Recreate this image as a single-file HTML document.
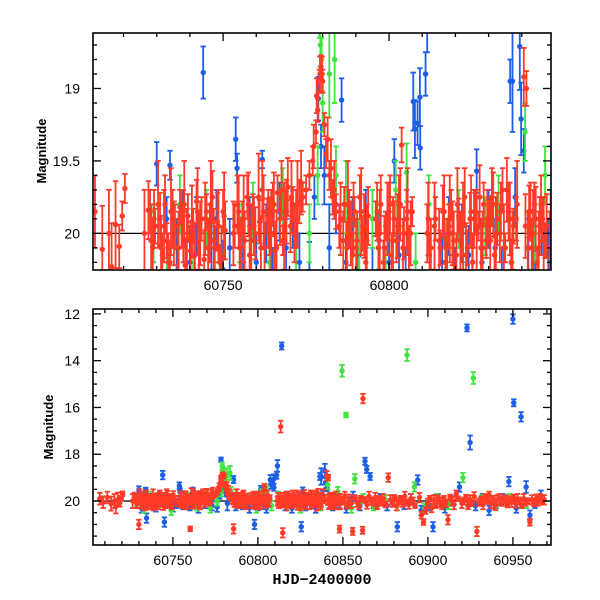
<!DOCTYPE html>
<html><head><meta charset="utf-8">
<style>
html,body{margin:0;padding:0;background:#fff;}
svg{display:block;}
text{font-family:"Liberation Sans",sans-serif;}
</style></head>
<body>
<svg id="chart" width="600" height="600" viewBox="0 0 600 600" xmlns="http://www.w3.org/2000/svg">
<defs>
<clipPath id="clipTop"><rect x="93" y="33" width="458" height="237"/></clipPath>
<clipPath id="clipBot"><rect x="93" y="309" width="458" height="236"/></clipPath>
</defs>
<rect x="0" y="0" width="600" height="600" fill="#fff"/>
<g id="top"></g>
<g id="bot"></g>
<text x="46" y="151" transform="rotate(-90 46 151)" text-anchor="middle" font-size="13" font-weight="bold">Magnitude</text>
<text x="53" y="427" transform="rotate(-90 53 427)" text-anchor="middle" font-size="13" font-weight="bold">Magnitude</text>
<text x="322" y="584" text-anchor="middle" font-size="15" font-weight="bold" style="font-family:'Liberation Mono',monospace">HJD−2400000</text>
</svg>
<script>
const redT=[60707,60709,60711.4,60713.6,60715.6,60716.4,60717.6,60718.7,60719.6,60720.4,60726.3,60727.5,
60728,60728.8,60729.5,60730,60731,60731.7,60732.5,60733,60734,60734.8,60735.5,60736.3,60737,60738,60738.6,60739.4,60740.2,60741,60742,60742.7,60743.5,60744.3,60745,60746,60746.8,60747.5,60748.3,60749,60750,60750.6,
60753.5,60754.3,60755,60755.8,60756.5,60757.3,60758,60759,60759.7,60760.2,60761,60761.8,60762.5,60763.3,60764,60765,60765.6,60766.4,60767.2,60768,60768.7,60769.5,60770.3,60771,60772,60773,
60774,60775,60776,60777,60778,60778.5,60779,60779.5,60780,60780.5,60781,60782,60783,60784,
60785,60785.7,60786.5,60787.3,60788,60789,60789.6,60790.4,60791.2,60792,60793,60793.7,60796,60796.8,60797.5,60798.3,60799,60800,60800.7,60801.5,60802.2,60803,60803.8,60804.5,60805.3,60806,60807,60811.5,60812.2,60813.4,60814,60814.6,60815.4,60816.2,60817,60818,60818.7,60819.5,60820.3,60821,60822,60822.8,60823.6,60824.4,60825.2,60826,60827,60827.7,60828.5,60829.3,60830,60831,60831.8,60832.6,60833.4,60834.2,60835,60836,60836.8,60837.5,60838.3,60840.6,60841.4,60842.2,60843,60843.8,60844.6,60845.4,60846.2,60847,60848,60848.7,
60850,60851.2,60852.4,60853.6,60854.8,60855.7,60857,60858.2,60859.4,60860.6,60861.6,60861.8,60863,60864.2,60865.4,60866.6,60867.8,60869,60870.2,60871.4,60872.6,60873.8,60875,60876.7,60878,60879.2,60880.4,60881.6,60882.8,60884,60885.2,60886.4,60887.6,60888.8,60890,60891.2,60892.4,60895,60896.2,60897.4,60898.6,60899.8,60901,60902.2,60903.4,60904.6,60905.8,60907,60908.2,60909.4,60910.6,60911.8,60913,60914.2,60915.4,60916.6,60917.8,60920,60921.2,60922.4,60923.6,60924.8,60926,60927.2,60928.8,60930,60931.2,60932.4,60933.6,60934.8,60936,60937.2,60938.4,60939.6,60940.8,60942,60943.2,60944.4,60945.6,60946.8,60948,60949.2,60950.4,60951.6,60952.8,60954,60955.2,60956.4,60957.6,60958.8,60960,60961.2,60962.4,60963.6,60964.8,60966,60967.2,60968.4];
const redMag=[19.9,20.05,19.85,20.11,20.0,20.23,19.94,20.09,19.88,19.69,20.0,19.84,
19.85,20.1,19.95,21.0,19.9,20.15,19.8,20.05,20.2,19.9,19.95,20.1,19.82,20.0,20.22,19.88,20.12,19.95,19.78,20.05,19.9,20.18,19.85,20.0,19.75,20.1,19.92,20.2,19.85,19.98,
19.95,19.8,20.1,19.9,20.05,19.75,20.15,19.85,20.0,21.19,19.92,19.7,20.1,19.88,19.95,19.8,20.12,19.72,19.9,20.05,19.85,19.68,19.95,19.8,19.9,19.78,
19.75,19.7,19.6,19.5,19.3,19.15,18.95,18.85,18.95,19.25,19.45,19.6,19.75,19.85,
19.95,21.19,19.8,20.1,19.9,20.15,19.85,20.05,19.75,20.0,20.2,19.88,19.9,20.1,19.8,20.2,19.95,19.85,20.15,19.9,20.05,19.8,19.39,20.0,19.9,20.1,19.85,20.0,20.15,16.82,19.9,21.36,20.1,19.85,20.2,19.95,19.8,20.05,20.15,19.88,20.0,19.75,20.1,19.9,20.2,19.85,19.95,20.1,19.8,20.05,19.92,19.75,20.15,19.9,20.0,19.7,20.1,19.85,20.2,19.95,19.9,18.92,19.0,19.85,20.1,19.8,20.2,19.95,19.9,20.05,21.2,19.9,
20.0,19.8,20.2,19.9,20.1,21.3,19.85,20.05,20.2,19.9,21.25,15.62,19.95,20.15,19.8,20.0,20.1,19.85,20.2,19.9,20.05,19.9,20.15,19.0,19.95,20.1,19.85,20.2,20.0,19.9,20.1,19.8,20.05,20.15,19.9,20.0,20.2,19.85,20.6,20.9,20.4,20.1,19.9,20.3,19.95,20.15,19.85,20.05,20.2,19.9,20.1,20.8,19.85,20.0,20.15,19.7,19.9,20.1,20.0,19.85,20.2,19.95,20.1,19.8,21.3,20.05,19.9,20.15,19.85,20.0,19.75,20.1,19.9,20.2,19.95,19.85,20.1,20.0,19.9,20.15,19.95,20.05,19.85,20.1,19.9,20.0,20.2,19.9,20.05,20.0,20.9,19.95,20.1,19.9,20.0,19.85,20.05,19.95];
const redErr=[0.25,0.25,0.25,0.3,0.3,0.3,0.3,0.15,0.1,0.1,0.3,0.2,
0.15,0.2,0.12,0.2,0.18,0.15,0.2,0.12,0.15,0.2,0.15,0.2,0.12,0.2,0.18,0.15,0.2,0.12,0.15,0.2,0.15,0.2,0.12,0.2,0.18,0.15,0.2,0.12,0.15,0.2,
0.15,0.2,0.18,0.12,0.2,0.15,0.2,0.12,0.18,0.1,0.15,0.2,0.18,0.12,0.2,0.15,0.2,0.12,0.18,0.1,0.15,0.2,0.18,0.12,0.2,0.15,
0.1,0.1,0.1,0.1,0.08,0.08,0.08,0.08,0.08,0.08,0.1,0.1,0.12,0.12,
0.15,0.2,0.12,0.18,0.2,0.15,0.1,0.2,0.15,0.12,0.15,0.2,0.12,0.18,0.2,0.15,0.1,0.2,0.15,0.12,0.15,0.2,0.12,0.18,0.2,0.15,0.1,0.2,0.15,0.25,0.15,0.2,0.12,0.18,0.2,0.15,0.1,0.2,0.15,0.12,0.15,0.2,0.12,0.18,0.2,0.15,0.1,0.2,0.15,0.12,0.15,0.2,0.12,0.18,0.2,0.15,0.1,0.2,0.15,0.12,0.15,0.2,0.12,0.18,0.2,0.15,0.1,0.2,0.15,0.12,0.15,0.2,
0.15,0.2,0.12,0.18,0.2,0.15,0.1,0.2,0.15,0.12,0.15,0.2,0.12,0.18,0.2,0.15,0.1,0.2,0.15,0.12,0.15,0.2,0.12,0.18,0.2,0.15,0.1,0.2,0.15,0.12,0.15,0.2,0.12,0.18,0.2,0.15,0.1,0.2,0.15,0.12,0.15,0.2,0.12,0.18,0.2,0.15,0.1,0.2,0.15,0.12,0.15,0.2,0.12,0.18,0.2,0.15,0.1,0.2,0.15,0.12,0.15,0.2,0.12,0.18,0.2,0.15,0.1,0.2,0.15,0.12,0.15,0.2,0.12,0.18,0.2,0.15,0.1,0.2,0.15,0.12,0.15,0.2,0.12,0.18,0.2,0.15,0.1,0.2,0.15,0.12,0.15,0.2,0.12,0.18,0.2,0.15,0.1,0.2];

const redT2=[60728.3,60729.2,60730.4,60731.3,60732.2,60733.5,60734.3,60735.2,60736.6,60737.5,60738.3,60739.1,60740.6,60741.5,60742.3,60743.1,60744.6,60745.5,60746.3,60747.2,60748.6,60749.5,60750.3,
60753.1,60754.7,60755.4,60756.2,60757.6,60758.5,60759.3,60760.7,60761.4,60762.2,60763.6,60764.5,60765.3,60766.1,60767.6,60768.4,60769.1,60770.6,60771.5,60772.4,60773.5,
60777.3,60778.2,60779.2,60779.8,60781.5,60782.5,60783.5,
60785.4,60786.2,60787.6,60788.5,60789.3,60790.1,60791.6,60792.5,60793.3,60796.4,60797.2,60798.6,60799.5,60800.3,60801.2,60802.6,60803.4,60804.2,60805.6,60806.5,60811.8,60812.6,60813.7,60815.1,60816.6,60817.5,60818.3,60819.1,60820.6,60821.5,60822.3,60823.2,60824.7,60825.6,60826.4,60827.3,60828.2,60829.6,60830.5,60831.4,60832.2,60833.7,60834.6,60835.5,60836.4,60837.2,60838.6,60841.1,60841.8,60842.6,60843.4,60844.2,60845.1,60845.8,60846.6,60847.5,60848.4];
const redMag2=[20.05,19.9,19.8,20.1,19.95,20.2,19.85,20.0,20.1,19.9,19.8,20.05,19.92,20.15,19.85,20.0,19.9,20.1,19.8,20.05,19.95,20.15,19.88,
20.0,19.85,20.1,19.9,19.8,20.05,19.95,19.75,20.1,19.85,19.9,20.0,19.8,20.1,19.7,19.95,19.85,19.75,20.0,19.8,19.65,
19.4,19.05,18.9,18.9,19.35,19.55,19.7,
19.9,20.05,19.8,20.0,19.9,20.1,19.85,19.95,20.05,19.85,20.0,20.1,19.9,19.8,20.05,19.95,19.8,20.1,19.85,20.0,19.9,20.1,19.95,20.05,19.85,20.1,19.9,20.0,19.8,20.05,19.95,20.15,19.85,19.9,20.0,19.75,20.1,19.9,20.05,19.8,20.0,19.85,20.1,19.7,19.9,20.05,19.8,19.95,20.1,19.85,20.0,19.9,20.1,19.8,20.05,19.95,20.1];
const redErr2=[0.25,0.2,0.3,0.22,0.25,0.2,0.3,0.22,0.25,0.2,0.3,0.22,0.25,0.2,0.3,0.22,0.25,0.2,0.3,0.22,0.25,0.2,0.3,
0.22,0.25,0.2,0.3,0.22,0.25,0.2,0.3,0.22,0.25,0.2,0.3,0.22,0.25,0.2,0.3,0.22,0.25,0.2,0.3,0.22,
0.15,0.12,0.12,0.12,0.15,0.2,0.2,
0.25,0.2,0.3,0.22,0.25,0.2,0.3,0.22,0.25,0.2,0.3,0.22,0.25,0.2,0.3,0.22,0.25,0.2,0.3,0.22,0.25,0.2,0.3,0.22,0.25,0.2,0.3,0.22,0.25,0.2,0.3,0.22,0.25,0.2,0.3,0.22,0.25,0.2,0.3,0.22,0.25,0.2,0.3,0.22,0.25,0.2,0.3,0.22,0.25,0.2,0.3,0.22,0.25,0.2,0.3,0.22,0.25];

const blueT=[60729,60730,60731.5,60733,60734,60734.5,60736,60738,60740,60742,60744,60745,60746.5,60748,60750,60752,60753.8,60754.2,60756,60758,60760,60761.8,60763,60765,60767,60769,60771,60773,60776,60777.5,60778.3,60778.7,60779.5,60780.5,60782,60784,60785.7,60787,60789,60791,60793,60795,60797,60798,60800,60801.6,60803,60805,60807.3,60807.8,60808.6,60809.3,60809.4,60811,60811.5,60814,60816,60818,60820,60822,60824,60825.5,60826.4,60828,60830,60832,60834,60836.5,60837.2,60838,60839.4,60839.8,60840.6,60842,60844,60846,60848,
60852,60856,60860,60863,60864,60866,60868,60872,60876,60880,60882,60886,60890,60894,60896,60900,60903,60906,60910,60914,60918.6,60923,60924.8,60928,60932,60936,60940,60944,60947.6,60950,60950.5,60952,60954.8,60957.8,60960,60963,60966.5];
const blueMag=[20.0,19.52,20.3,19.9,19.53,20.73,20.1,19.85,20.2,19.95,18.89,20.9,20.05,19.9,20.25,20.1,19.35,19.55,20.15,19.9,20.2,19.49,20.0,20.3,19.85,20.1,19.9,20.2,20.26,19.75,18.24,19.07,19.4,19.6,20.1,19.8,19.08,20.2,19.95,20.15,19.9,20.3,20.05,21.0,20.2,19.5,20.15,20.3,19.09,19.28,19.24,19.06,19.41,18.9,18.5,13.37,20.2,19.95,20.3,20.0,20.15,21.1,19.57,20.2,19.9,20.1,20.3,18.95,18.95,19.75,18.71,19.21,19.43,20.1,20.2,19.95,20.1,
20.3,19.8,20.2,18.3,18.65,18.95,20.1,19.9,20.2,19.95,21.1,20.15,19.9,19.1,20.4,20.2,21.1,19.9,20.3,20.0,19.4,12.6,17.5,20.2,19.9,20.4,20.1,19.9,19.17,12.22,15.8,20.3,16.4,19.4,20.6,20.1,19.75];
const blueErr=[0.2,0.15,0.2,0.15,0.1,0.2,0.2,0.15,0.25,0.2,0.18,0.2,0.2,0.2,0.2,0.2,0.15,0.1,0.2,0.15,0.2,0.06,0.2,0.2,0.2,0.2,0.2,0.2,0.2,0.15,0.1,0.15,0.15,0.2,0.3,0.2,0.15,0.2,0.2,0.2,0.2,0.2,0.2,0.2,0.2,0.15,0.2,0.2,0.2,0.2,0.15,0.2,0.15,0.15,0.25,0.15,0.2,0.2,0.2,0.2,0.2,0.2,0.15,0.2,0.2,0.2,0.2,0.15,0.35,0.2,0.3,0.25,0.15,0.2,0.2,0.2,0.2,
0.2,0.2,0.2,0.15,0.15,0.15,0.2,0.2,0.2,0.2,0.2,0.2,0.2,0.2,0.2,0.2,0.2,0.2,0.2,0.2,0.2,0.15,0.3,0.2,0.2,0.2,0.2,0.2,0.2,0.2,0.15,0.2,0.2,0.25,0.2,0.2,0.2];

const greenT=[60729,60733,60737,60741,60745,60749,60755,60759,60764,60768,60772,60776,60778.5,60779,60779.3,60779.7,60780,60782,60783.6,60784,60787,60791,60795,60799,60802,60805.3,60808,60812,60817,60821,60825,60829,60833,60837,60841,60844,60847,60849.5,60851.8,60855,60857,60862,60868,60875,60882,60887.7,60892,60898,60905,60912,60920.6,60926.7,60932,60940,60948,60958];
const greenMag=[20.0,20.3,19.8,20.15,19.9,20.4,20.0,19.85,20.2,19.75,20.3,20.0,19.6,18.5,18.7,18.8,19.1,18.9,18.8,19.6,19.75,20.1,19.9,20.3,19.7,19.58,20.2,19.8,20.1,19.9,20.3,19.95,19.8,20.2,19.3,20.0,19.6,14.43,16.32,20.3,19.05,19.9,20.2,19.95,20.2,13.76,19.4,20.3,19.9,20.15,19.0,14.74,19.95,20.2,19.9,20.1];
const greenErr=[0.2,0.2,0.2,0.2,0.2,0.2,0.2,0.2,0.2,0.2,0.2,0.2,0.2,0.15,0.15,0.15,0.2,0.3,0.3,0.2,0.25,0.2,0.2,0.2,0.2,0.2,0.2,0.2,0.2,0.2,0.2,0.2,0.2,0.2,0.2,0.2,0.2,0.25,0.1,0.2,0.2,0.2,0.2,0.2,0.2,0.25,0.2,0.2,0.2,0.2,0.2,0.25,0.2,0.2,0.2,0.2];

const topXTicks=[60750,60800];
const topYTicks=[19,19.5,20];
const botXTicks=[60750,60800,60850,60900,60950];
const botYTicks=[12,14,16,18,20];

const NS='http://www.w3.org/2000/svg';
function mk(tag,attrs,parent){const e=document.createElementNS(NS,tag);for(const k in attrs)e.setAttribute(k,attrs[k]);parent.appendChild(e);return e;}

const panels=[
 {g:document.getElementById('top'),clip:'clipTop',x0:93,x1:551,y0:33,y1:270,tmin:60710.8,tmax:60848.8,mTop:18.617,mBot:20.253,
  xt:topXTicks,yt:topYTicks,xMinor:10,yMinor:0.1,ylab:['19','19.5','20'],name:'top'},
 {g:document.getElementById('bot'),clip:'clipBot',x0:93,x1:551,y0:309,y1:545,tmin:60703,tmax:60972.4,mTop:11.79,mBot:21.88,
  xt:botXTicks,yt:botYTicks,xMinor:10,yMinor:0.5,ylab:['12','14','16','18','20'],name:'bottom'}
];
const series=[
 {name:'blue',col:'#1c5ee8',t:blueT,m:blueMag,e:blueErr},
 {name:'green',col:'#3fe43f',t:greenT,m:greenMag,e:greenErr},
 {name:'red',col:'#ff3b28',t:redT,m:redMag,e:redErr},
 {name:'red-extra',col:'#ff3b28',t:redT2,m:redMag2,e:redErr2}
];

panels.forEach(p=>{
 const X=t=>p.x0+(t-p.tmin)/(p.tmax-p.tmin)*(p.x1-p.x0);
 const Y=m=>p.y0+(m-p.mTop)/(p.mBot-p.mTop)*(p.y1-p.y0);
 const plot=mk('g',{'clip-path':'url(#'+p.clip+')'},p.g);
 
 
 const ref=mk('line',{x1:p.x0,x2:p.x1,y1:Y(20),y2:Y(20),stroke:'#000','stroke-width':1.3},plot);
 
 
 series.forEach(s=>{
  const sg=mk('g',{stroke:s.col,fill:s.col,'stroke-width':1.8},plot);
  
  
  for(let i=0;i<s.t.length;i++){
   const x=X(s.t[i]),y=Y(s.m[i]),ya=Y(s.m[i]-s.e[i]),yb=Y(s.m[i]+s.e[i]);
   const pt=mk('g',{},sg);
   
   
   mk('line',{x1:x,x2:x,y1:ya,y2:yb},pt);
   mk('line',{x1:x-2.7,x2:x+2.7,y1:ya,y2:ya},pt);
   mk('line',{x1:x-2.7,x2:x+2.7,y1:yb,y2:yb},pt);
   mk('circle',{cx:x,cy:y,r:2.7,stroke:'none'},pt);
  }
 });
 const ax=mk('g',{stroke:'#000','stroke-width':1.3,fill:'none'},p.g);
 
 
 mk('rect',{x:p.x0,y:p.y0,width:p.x1-p.x0,height:p.y1-p.y0,'stroke-width':1.6},ax);
 for(let t=Math.ceil(p.tmin/p.xMinor)*p.xMinor;t<=p.tmax;t+=p.xMinor){
  const major=p.xt.includes(t);const L=major?8:4;const x=X(t);
  mk('line',{x1:x,x2:x,y1:p.y1,y2:p.y1-L},ax);
  mk('line',{x1:x,x2:x,y1:p.y0,y2:p.y0+L},ax);
 }
 const start=Math.ceil(p.mTop/p.yMinor-1e-6);
 for(let k=start;k*p.yMinor<=p.mBot+1e-9;k++){
  const m=+(k*p.yMinor).toFixed(3);
  const major=p.yt.some(v=>Math.abs(v-m)<1e-6);const L=major?8:4;const y=Y(m);
  mk('line',{x1:p.x0,x2:p.x0+L,y1:y,y2:y},ax);
  mk('line',{x1:p.x1,x2:p.x1-L,y1:y,y2:y},ax);
 }
 p.xt.forEach(t=>{
  const tx=mk('text',{x:X(t),y:p.y1+20,'text-anchor':'middle','font-size':14,fill:'#000'},p.g);
  
  
  tx.textContent=String(t);
 });
 p.yt.forEach((m,i)=>{
  const tx=mk('text',{x:p.x0-13,y:Y(m)+5,'text-anchor':'end','font-size':14,fill:'#000'},p.g);
  
  
  tx.textContent=p.ylab[i];
 });
});
</script>
</body></html>
